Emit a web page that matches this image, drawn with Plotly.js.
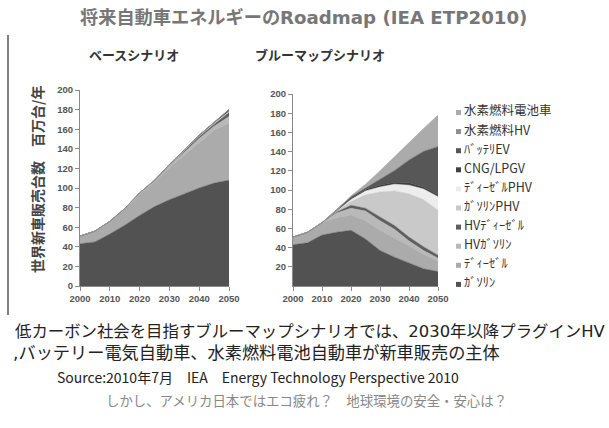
<!DOCTYPE html>
<html><head><meta charset="utf-8">
<script src="https://cdn.plot.ly/plotly-3.0.1.min.js"></script>
<style>html,body{margin:0;padding:0;background:#fff}</style>
</head><body><div id="chart" style="width:609px;height:428px"></div>
<script>
// ---------- data ----------
const years = [2000,2005,2010,2015,2020,2025,2030,2035,2040,2045,2050];
const seriesNames = ['ｶﾞｿﾘﾝ','ﾃﾞｨｰｾﾞﾙ','HVｶﾞｿﾘﾝ','HVﾃﾞｨｰｾﾞﾙ','ｶﾞｿﾘﾝPHV','ﾃﾞｨｰｾﾞﾙPHV','CNG/LPGV','ﾊﾞｯﾃﾘEV','水素燃料HV','水素燃料電池車'];
const seriesColors = ['#525252','#ababab','#b9b9b9','#5e5e5e','#c9c9c9','#ededed','#404040','#575757','#8e8e8e','#ababab'];

// Base scenario (ベースシナリオ), million vehicles / year
const baseGasoline    = [43,45,53,62,72,81,88,94,100,105,108];
const baseDiesel      = [8,11,13,16,22,25,33,40,47,54,58];
const baseHVGasoline  = [0,0,0,0.5,1,1,1.5,2.5,3.5,4,7];
const baseHVDiesel    = [0,0,0,0.5,0,0.5,1,1.5,2,2,4];
const baseGasolinePHV = [0,0,0,0,0,0,0,0,0.5,1,1];
const baseDieselPHV   = [0,0,0,0,0,0,0,0,0,0,0];
const baseCNG         = [0,0,0,0,0,0.5,0.5,1,1,1,2];
const baseBEV         = [0,0,0,0,0,0,0,0,0,0,0];
const baseH2HV        = [0,0,0,0,0,0,0,0,0,0,0];
const baseFCV         = [0,0,0,0,0,0,0,0,0,0,0];

// BLUE Map scenario (ブルーマップシナリオ)
const blueGasoline    = [43,45,53,56,58,49,37,30,24,18,15];
const blueDiesel      = [8,11,13,15,16,19,21,20,18,15,11];
const blueHVGasoline  = [0,0,0,5,7,10,10,9,5,4,3];
const blueHVDiesel    = [0,0,0,1,3,3,4,4,4,4,3];
const blueGasolinePHV = [0,0,0,1,4,14,26,36,45,49,47];
const blueDieselPHV   = [0,0,0,0,2,4,5,7,9,11,14];
const blueCNG         = [0,0,0,0.5,1,1.5,2,2,2.5,2,2];
const blueBEV         = [0,0,0,0.5,2,1.5,6,12,23.5,37,50];
const blueH2HV        = [0,0,0,0,0,0.5,1,1,1,1,1];
const blueFCV         = [0,0,0,0,1,3.5,8,14,18,23,32];

const yTicksLeft  = [0,20,40,60,80,100,120,140,160,180,200];
const yTicksRight = [20,40,60,80,100,120,140,160,180,200];
const xTicks = [2000,2010,2020,2030,2040,2050];

const mainTitle = '将来自動車エネルギーのRoadmap (IEA ETP2010)';
const leftTitle = 'ベースシナリオ';
const rightTitle = 'ブルーマップシナリオ';
const yTitle = '世界新車販売台数　百万台/年';
const note1 = '低カーボン社会を目指すブルーマップシナリオでは、2030年以降プラグインHV';
const note2 = ',バッテリー電気自動車、水素燃料電池自動車が新車販売の主体';
const note3 = 'Source:2010年7月　IEA　Energy Technology Perspective 2010';
const note4 = 'しかし、アメリカ日本ではエコ疲れ？　地球環境の安全・安心は？';

// ---------- layout helpers ----------
const W = 609, H = 428;
const fx = p => p / W;
const fy = p => 1 - p / H;
const JP = '"Noto Sans CJK JP", "Noto Sans", sans-serif';
const MIX = '"DejaVu Sans", "Noto Sans CJK JP", sans-serif';

const baseSeries = [baseGasoline, baseDiesel, baseHVGasoline, baseHVDiesel, baseGasolinePHV, baseDieselPHV, baseCNG, baseBEV, baseH2HV, baseFCV];
const blueSeries = [blueGasoline, blueDiesel, blueHVGasoline, blueHVDiesel, blueGasolinePHV, blueDieselPHV, blueCNG, blueBEV, blueH2HV, blueFCV];

const traces = [];
baseSeries.forEach((s, i) => traces.push({
  x: years, y: s, name: seriesNames[i], type: 'scatter', mode: 'lines',
  stackgroup: 'base', xaxis: 'x', yaxis: 'y', showlegend: false,
  line: {color: seriesColors[i], width: 0.5},
  fillcolor: seriesColors[i], hoverinfo: 'skip'
}));
blueSeries.forEach((s, i) => traces.push({
  x: years, y: s, name: seriesNames[i], type: 'scatter', mode: 'lines',
  stackgroup: 'blue', xaxis: 'x2', yaxis: 'y2', showlegend: false,
  line: {color: seriesColors[i], width: 0.5},
  fillcolor: seriesColors[i], hoverinfo: 'skip'
}));

const tickFont = {family: '"Liberation Sans", Arial, sans-serif', size: 9.5, color: '#555', weight: 'bold'};
const axCommon = {
  showgrid: false, zeroline: false, showline: true, linecolor: '#8a8a8a', linewidth: 1,
  ticks: 'outside', ticklen: 4, tickcolor: '#8a8a8a', tickfont: tickFont, fixedrange: true
};

const annotations = [
  {text: mainTitle, x: fx(303), y: fy(18), font: {family: MIX, size: 18.2, color: '#777', weight: 'bold'}},
  {text: leftTitle, x: fx(134), y: fy(55), font: {family: JP, size: 13, color: '#333', weight: 'bold'}},
  {text: rightTitle, x: fx(320), y: fy(55), font: {family: JP, size: 13, color: '#333', weight: 'bold'}},
  {text: yTitle, x: fx(37), y: fy(180), textangle: -90, font: {family: JP, size: 14, color: '#444', weight: 'bold'}},
  {text: note1, x: fx(13), y: fy(331), xanchor: 'left', font: {family: MIX, size: 16.4, color: '#222'}},
  {text: note2, x: fx(11), y: fy(353), xanchor: 'left', font: {family: MIX, size: 17.2, color: '#222'}},
  {text: note3, x: fx(258), y: fy(377), font: {family: JP, size: 14, color: '#222'}},
  {text: note4, x: fx(306), y: fy(400), font: {family: JP, size: 13.4, color: '#888'}}
].map(a => Object.assign({xref: 'paper', yref: 'paper', showarrow: false, xanchor: 'center', yanchor: 'middle'}, a));

const shapes = [
  {type: 'line', xref: 'paper', yref: 'paper', x0: fx(8), x1: fx(8), y0: fy(35), y1: fy(315), line: {color: '#555', width: 1.5}}
];

// manual legend (top: last series)
for (let k = 0; k < seriesNames.length; k++) {
  const i = seriesNames.length - 1 - k;
  const cy = 110 + k * 19.1;
  annotations.push({xref: 'paper', yref: 'paper', showarrow: false, xanchor: 'left', yanchor: 'middle',
    x: fx(462), y: fy(cy), text: seriesNames[i], font: {family: JP, size: 12.5, color: '#333'}});
  shapes.push({type: 'rect', xref: 'paper', yref: 'paper', x0: fx(456), x1: fx(461), y0: fy(cy + 5), y1: fy(cy),
    fillcolor: seriesColors[i], line: {width: 0}});
}

const layout = {
  width: W, height: H, margin: {l: 0, r: 0, t: 0, b: 0},
  paper_bgcolor: '#ffffff', plot_bgcolor: '#ffffff', showlegend: false,
  xaxis: Object.assign({}, axCommon, {domain: [fx(80), fx(229)], range: [2000, 2050], tickvals: xTicks, anchor: 'y'}),
  yaxis: Object.assign({}, axCommon, {domain: [fy(286), fy(90)], range: [0, 200], tickvals: yTicksLeft, anchor: 'x'}),
  xaxis2: Object.assign({}, axCommon, {domain: [fx(293), fx(438)], range: [2000, 2050], tickvals: xTicks, anchor: 'y2'}),
  yaxis2: Object.assign({}, axCommon, {domain: [fy(286), fy(94)], range: [0, 200], tickvals: yTicksRight, anchor: 'x2'}),
  annotations: annotations, shapes: shapes
};

Plotly.newPlot('chart', traces, layout, {displayModeBar: false, staticPlot: true});
</script></body></html>
